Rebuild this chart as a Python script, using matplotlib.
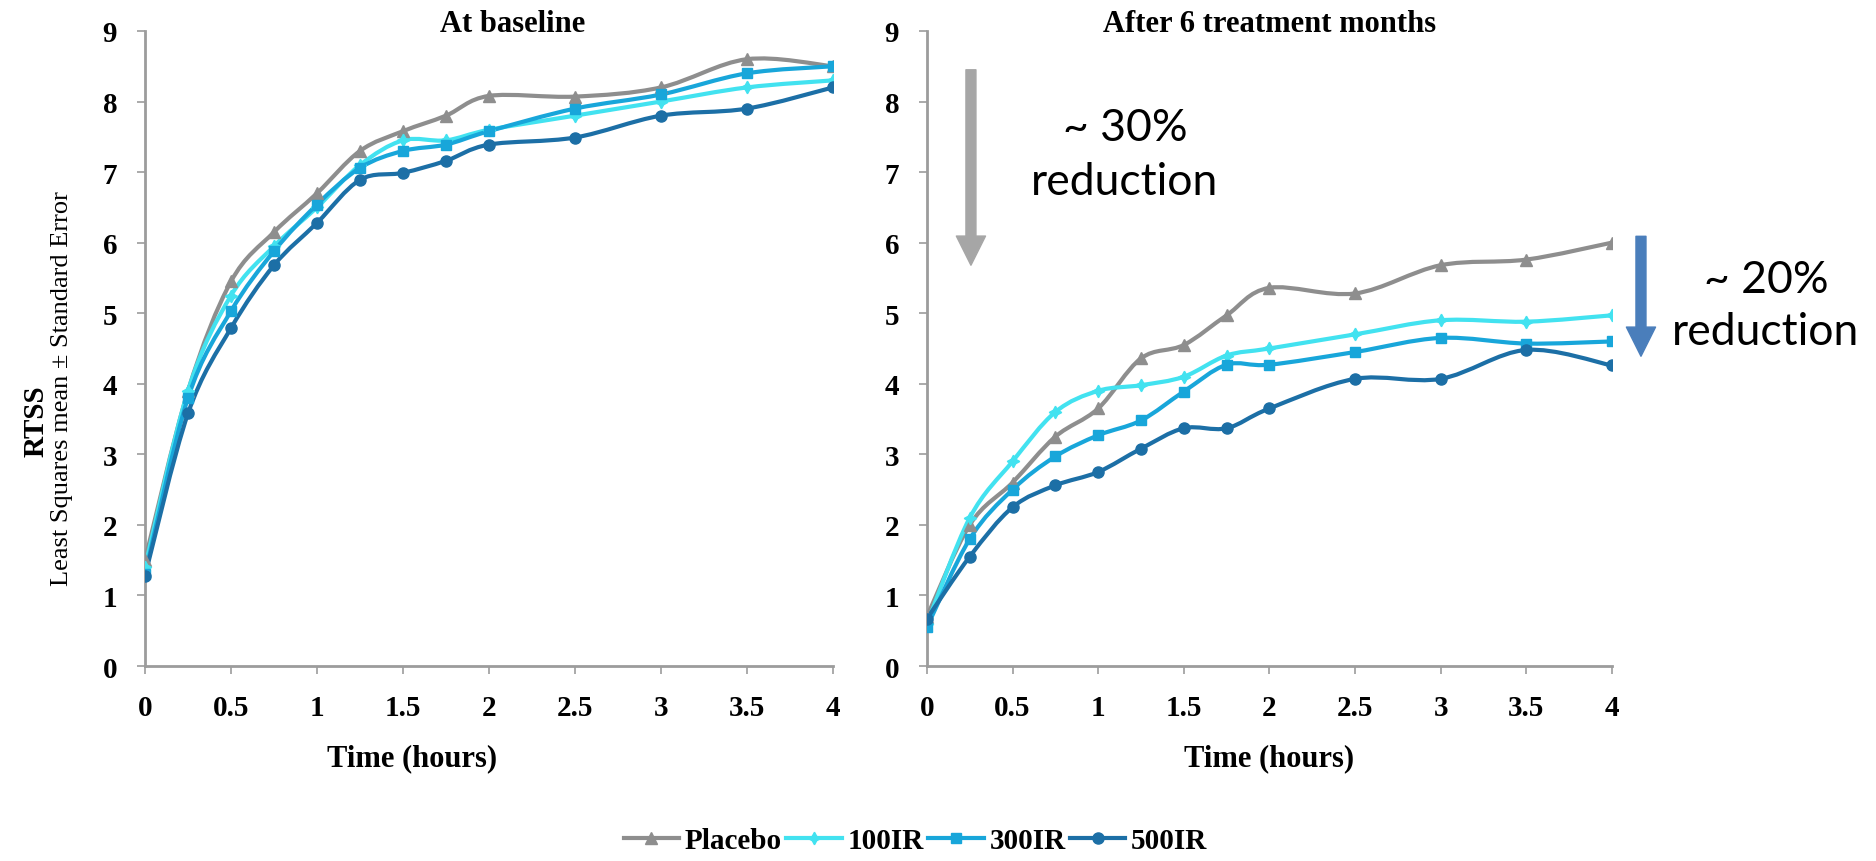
import numpy as np
import matplotlib.pyplot as plt
from matplotlib.path import Path
from matplotlib.patches import PathPatch, FancyArrowPatch
from matplotlib.lines import Line2D

# time points (hours)
hours = [0, 0.25, 0.5, 0.75, 1, 1.25, 1.5, 1.75, 2, 2.5, 3, 3.5, 4]
tick_labels = ["0", "0.5", "1", "1.5", "2", "2.5", "3", "3.5", "4"]

# At baseline
base_placebo = [1.5, 3.9, 5.45, 6.15, 6.7, 7.3, 7.58, 7.8, 8.08, 8.07, 8.2, 8.6, 8.5]
base_100ir = [1.4, 3.9, 5.25, 5.95, 6.5, 7.1, 7.45, 7.45, 7.6, 7.8, 8.0, 8.2, 8.3]
base_300ir = [1.3, 3.8, 5.03, 5.88, 6.54, 7.06, 7.3, 7.39, 7.58, 7.9, 8.1, 8.4, 8.5]
base_500ir = [1.28, 3.58, 4.79, 5.68, 6.28, 6.89, 6.99, 7.16, 7.39, 7.49, 7.8, 7.9, 8.2]

# After 6 treatment months
m6_placebo = [0.7, 2.0, 2.6, 3.25, 3.65, 4.36, 4.55, 4.97, 5.36, 5.28, 5.68, 5.76, 6.0]
m6_100ir = [0.6, 2.1, 2.9, 3.6, 3.9, 3.98, 4.1, 4.4, 4.5, 4.7, 4.9, 4.88, 4.97]
m6_300ir = [0.55, 1.8, 2.5, 2.97, 3.27, 3.48, 3.89, 4.27, 4.27, 4.45, 4.65, 4.57, 4.6]
m6_500ir = [0.67, 1.55, 2.25, 2.56, 2.75, 3.08, 3.37, 3.37, 3.65, 4.07, 4.07, 4.48, 4.26]

series_names = ["Placebo", "100IR", "300IR", "500IR"]
colors = ["#8E8E8E", "#42E2F0", "#18A6DA", "#1C6FA6"]
markers = ["^", (4, 1, 0), "s", "o"]
msizes = [8, 9, 7, 8]

serif = "Liberation Serif"


def smooth_path(x, y):
    # Excel-style smoothed line: cubic bezier with catmull-rom control points
    pts = np.column_stack([np.asarray(x, float), np.asarray(y, float)])
    verts = [pts[0]]
    codes = [Path.MOVETO]
    n = len(pts)
    for i in range(n - 1):
        p0 = pts[i - 1] if i > 0 else pts[i]
        p1 = pts[i]
        p2 = pts[i + 1]
        p3 = pts[i + 2] if i + 2 < n else pts[i + 1]
        verts += [p1 + (p2 - p0) / 6.0, p2 - (p3 - p1) / 6.0, p2]
        codes += [Path.CURVE4] * 3
    return Path(verts, codes)


def draw_panel(ax, data, xlabel_x):
    for vals, c, m, ms in zip(data, colors, markers, msizes):
        ax.add_patch(PathPatch(smooth_path(hours, vals), fill=False,
                               edgecolor=c, lw=3, zorder=3))
        ax.plot(hours, vals, linestyle="none", marker=m, ms=ms,
                color=c, zorder=4)
    ax.set_xlim(0, 4)
    ax.set_ylim(0, 9)
    ax.set_xticks(np.arange(0, 4.01, 0.5))
    ax.set_xticklabels(tick_labels)
    ax.set_yticks(range(0, 10))
    for s in ["top", "right"]:
        ax.spines[s].set_visible(False)
    for s in ["left", "bottom"]:
        ax.spines[s].set_color("#9C9C9C")
        ax.spines[s].set_linewidth(2)
    ax.tick_params(colors="#9C9C9C", length=6, width=1.2, pad=14)
    for lab in ax.get_xticklabels() + ax.get_yticklabels():
        lab.set_fontfamily(serif)
        lab.set_fontweight("bold")
        lab.set_fontsize(21)
        lab.set_color("black")
    ax.set_xlabel("Time (hours)", fontfamily=serif, fontweight="bold",
                  fontsize=22, labelpad=16)
    ax.xaxis.label.set_x(xlabel_x)


fig = plt.figure(figsize=(18.76, 8.62), dpi=100)
ax1 = fig.add_axes([0.0773, 0.2262, 0.3667, 0.7367])
ax2 = fig.add_axes([0.4941, 0.2262, 0.3651, 0.7367])

draw_panel(ax1, [base_placebo, base_100ir, base_300ir, base_500ir], 0.388)
draw_panel(ax2, [m6_placebo, m6_100ir, m6_300ir, m6_500ir], 0.5)

fig.text(0.273, 0.972, "At baseline", ha="center", va="center",
         fontfamily=serif, fontweight="bold", fontsize=22)
fig.text(0.677, 0.972, "After 6 treatment months", ha="center", va="center",
         fontfamily=serif, fontweight="bold", fontsize=22)

fig.text(0.019, 0.511, "RTSS", rotation=90, ha="center", va="center",
         fontfamily=serif, fontweight="bold", fontsize=21)
fig.text(0.033, 0.549, "Least Squares mean \u00b1 Standard Error", rotation=90,
         ha="center", va="center", fontfamily=serif, fontsize=19)

# reduction arrows and notes
arrow_style = "simple,head_length=2.1,head_width=2.1,tail_width=0.72"
arr1 = FancyArrowPatch((0.257, 8.45), (0.257, 5.68), transform=ax2.transData,
                       arrowstyle=arrow_style, mutation_scale=10,
                       color="#A6A6A6", shrinkA=0, shrinkB=0,
                       clip_on=False, zorder=5)
ax2.add_patch(arr1)
ax2.text(1.156, 7.25, "~ 30%\nreduction", ha="center", va="center",
         fontfamily="Lato", fontsize=32, linespacing=1.38)

arr2 = FancyArrowPatch((4.17, 6.09), (4.17, 4.39), transform=ax2.transData,
                       arrowstyle=arrow_style, mutation_scale=10,
                       color="#4A7EBB", shrinkA=0, shrinkB=0,
                       clip_on=False, zorder=5)
ax2.add_patch(arr2)
ax2.text(4.9, 5.11, "~ 20%\nreduction", ha="center", va="center",
         fontfamily="Lato", fontsize=32, linespacing=1.32, clip_on=False)

handles = [Line2D([0], [0], color=c, lw=3, marker=m, ms=ms)
           for c, m, ms in zip(colors, markers, msizes)]
fig.legend(handles, series_names, loc="center", bbox_to_anchor=(0.488, 0.024),
           ncol=4, frameon=False, handlelength=1.9, handletextpad=0.2,
           columnspacing=0.15, borderpad=0,
           prop={"family": serif, "weight": "bold", "size": 21})

fig.savefig("out.png", dpi=100)
